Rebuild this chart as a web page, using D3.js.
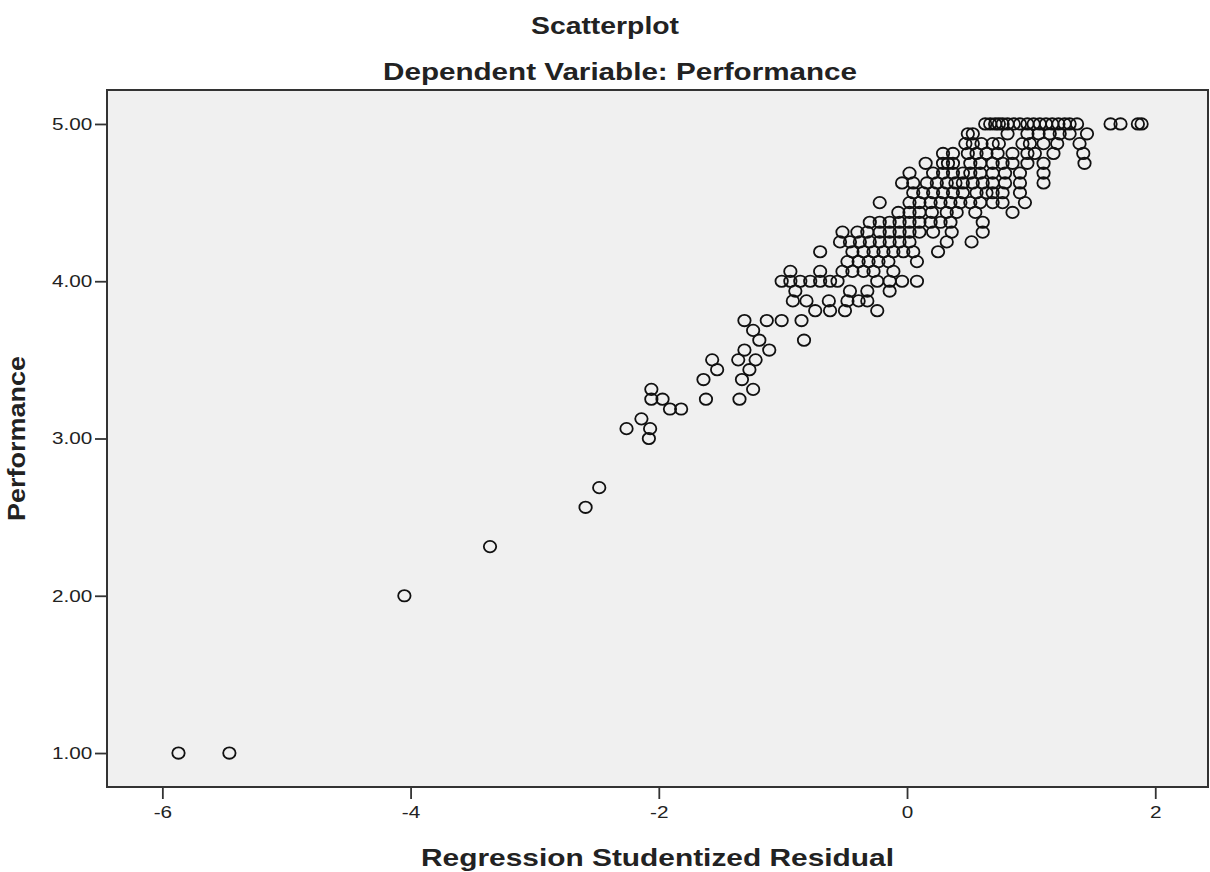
<!DOCTYPE html>
<html>
<head>
<meta charset="utf-8">
<script src="https://cdn.jsdelivr.net/npm/d3@7"></script>
<style>
  html, body { margin: 0; padding: 0; background: #fff; }
  svg { display: block; font-family: Arial, "Liberation Sans", sans-serif; }
</style>
</head>
<body>
<svg id="chart" width="1210" height="872"></svg>
<script>
const perfLevels = [
  5.00, 4.9375, 4.875, 4.8125, 4.75, 4.6875, 4.625, 4.5625, 4.5, 4.4375,
  4.375, 4.3125, 4.25, 4.1875, 4.125, 4.0625, 4.00, 3.9375, 3.875, 3.8125,
  3.75, 3.6875, 3.625, 3.5625, 3.50, 3.4375, 3.375, 3.3125, 3.25, 3.1875,
  3.125, 3.0625, 3.00, 2.6875, 2.5625, 2.3125, 2.00, 1.00
];

const residualsByLevel = [
  [0.63, 0.67, 0.71, 0.74, 0.77, 0.81, 0.86, 0.91, 0.97, 1.02, 1.07, 1.12, 1.17, 1.22, 1.27, 1.31, 1.37, 1.64, 1.72, 1.86, 1.89],
  [0.49, 0.53, 0.81, 0.97, 1.06, 1.15, 1.23, 1.31, 1.45],
  [0.47, 0.53, 0.60, 0.69, 0.74, 0.93, 0.99, 1.10, 1.21, 1.39],
  [0.29, 0.37, 0.49, 0.56, 0.64, 0.73, 0.85, 0.97, 1.03, 1.18, 1.42],
  [0.15, 0.29, 0.33, 0.37, 0.51, 0.59, 0.69, 0.77, 0.85, 0.97, 1.10, 1.43],
  [0.02, 0.21, 0.29, 0.37, 0.45, 0.51, 0.59, 0.69, 0.79, 0.91, 1.10],
  [-0.04, 0.05, 0.16, 0.24, 0.32, 0.39, 0.45, 0.53, 0.61, 0.69, 0.79, 0.91, 1.10],
  [0.05, 0.13, 0.21, 0.29, 0.37, 0.45, 0.56, 0.64, 0.69, 0.77, 0.91],
  [-0.22, 0.02, 0.10, 0.19, 0.27, 0.35, 0.43, 0.51, 0.59, 0.69, 0.77, 0.95],
  [-0.07, 0.02, 0.10, 0.20, 0.32, 0.40, 0.55, 0.85],
  [-0.30, -0.22, -0.14, -0.06, 0.02, 0.10, 0.19, 0.27, 0.35, 0.61],
  [-0.52, -0.40, -0.32, -0.22, -0.14, -0.06, 0.02, 0.10, 0.21, 0.36, 0.61],
  [-0.54, -0.46, -0.38, -0.30, -0.22, -0.14, -0.06, 0.02, 0.32, 0.52],
  [-0.70, -0.44, -0.35, -0.27, -0.19, -0.11, -0.03, 0.05, 0.25],
  [-0.48, -0.39, -0.31, -0.23, -0.15, 0.08],
  [-0.94, -0.70, -0.52, -0.44, -0.35, -0.27, -0.11],
  [-1.01, -0.94, -0.86, -0.78, -0.70, -0.62, -0.56, -0.24, -0.14, -0.04, 0.08],
  [-0.90, -0.46, -0.32, -0.14],
  [-0.92, -0.81, -0.63, -0.48, -0.39, -0.32],
  [-0.74, -0.62, -0.50, -0.24],
  [-1.31, -1.13, -1.01, -0.85],
  [-1.24],
  [-1.19, -0.83],
  [-1.31, -1.11],
  [-1.57, -1.36, -1.22],
  [-1.53, -1.27],
  [-1.64, -1.33],
  [-2.06, -1.24],
  [-2.06, -1.97, -1.62, -1.35],
  [-1.91, -1.82],
  [-2.14],
  [-2.26, -2.07],
  [-2.08],
  [-2.48],
  [-2.59],
  [-3.36],
  [-4.05],
  [-5.87, -5.46]
];

const xTicks = [-6, -4, -2, 0, 2];
const yTicks = [1, 2, 3, 4, 5];

const titleText = 'Scatterplot';
const subtitleText = 'Dependent Variable: Performance';
const xLabel = 'Regression Studentized Residual';
const yLabel = 'Performance';

const points = perfLevels.flatMap((p, i) => residualsByLevel[i].map(r => ({ x: r, y: p })));

const svg = d3.select('#chart');
const plot = { left: 107, right: 1208, top: 90, bottom: 787 };
const stretch = 1.22; // text in the reference is drawn wide

const x = d3.scaleLinear().domain([-6.446, 2.425]).range([plot.left, plot.right]);
const y = d3.scaleLinear().domain([0.784, 5.216]).range([plot.bottom, plot.top]);

// plot background
svg.append('rect')
  .attr('x', plot.left).attr('y', plot.top)
  .attr('width', plot.right - plot.left).attr('height', plot.bottom - plot.top)
  .attr('fill', '#f0f0f0');

// axes
const axX = svg.append('g')
  .attr('transform', `translate(0,${plot.bottom})`)
  .call(d3.axisBottom(x).tickValues(xTicks).tickSize(12).tickPadding(7).tickFormat(d => String(d)));
const axY = svg.append('g')
  .attr('transform', `translate(${plot.left},0)`)
  .call(d3.axisLeft(y).tickValues(yTicks).tickSize(12).tickPadding(0).tickFormat(d3.format('.2f')));

[axX, axY].forEach(a => {
  a.select('.domain').remove();
  a.selectAll('.tick line').attr('stroke', '#333').attr('stroke-width', 1.8);
  a.selectAll('.tick text')
    .attr('fill', '#222')
    .attr('transform', `scale(${stretch},1)`)
    .style('font-size', '17px')
    .style('font-family', 'Arial, "Liberation Sans", sans-serif');
});

// points
svg.append('g').selectAll('ellipse')
  .data(points)
  .join('ellipse')
  .attr('cx', d => x(d.x))
  .attr('cy', d => y(d.y))
  .attr('rx', 6.2)
  .attr('ry', 5.7)
  .attr('fill', 'none')
  .attr('stroke', '#111')
  .attr('stroke-width', 1.8);

// frame
svg.append('rect')
  .attr('x', plot.left).attr('y', plot.top)
  .attr('width', plot.right - plot.left).attr('height', plot.bottom - plot.top)
  .attr('fill', 'none').attr('stroke', '#333').attr('stroke-width', 2);

// titles
function label(txt, cx, cy, len, rotate) {
  svg.append('text')
    .attr('transform', `translate(${cx},${cy})` + (rotate ? ' rotate(-90)' : ''))
    .attr('text-anchor', 'middle')
    .attr('textLength', len)
    .attr('lengthAdjust', 'spacingAndGlyphs')
    .style('font-size', '24px').style('font-weight', 'bold')
    .attr('fill', '#222')
    .text(txt);
}

label(titleText, 605, 34, 148);
label(subtitleText, 620, 80, 474);
label(xLabel, (plot.left + plot.right) / 2, 866, 473);
label(yLabel, 25, (plot.top + plot.bottom) / 2, 165, true);
</script>
</body>
</html>
